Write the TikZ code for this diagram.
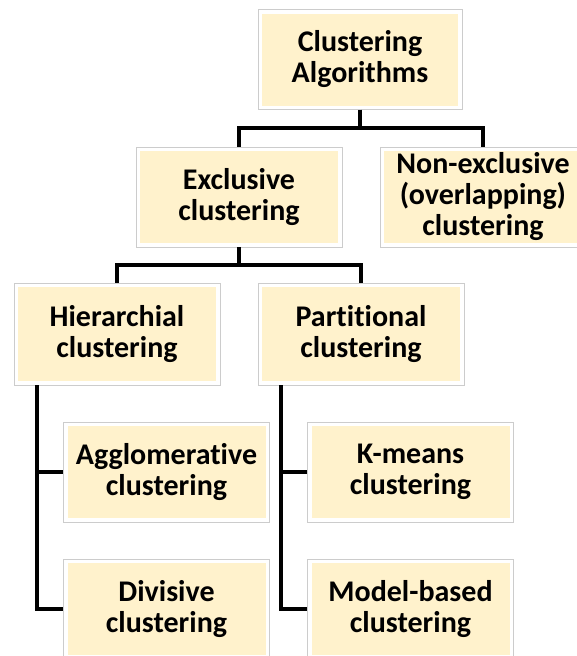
\documentclass[tikz,border=0pt]{standalone}
\usepackage{fontspec}
\setmainfont[Ligatures={NoCommon}]{Carlito}
\definecolor{cream}{HTML}{FFF2CC}
\definecolor{frame}{HTML}{CCCCCC}
\tikzset{
  box/.style={draw=frame, fill=white, minimum width=206, minimum height=100,
    align=center, font=\fontsize{30}{31}\selectfont\bfseries,
    path picture={\fill[cream] ([shift={(4pt,-4pt)}]path picture bounding box.north west)
      rectangle ([shift={(-4pt,4pt)}]path picture bounding box.south east);}},
  conn/.style={line width=4.5pt, black}
}
\begin{document}
\begin{tikzpicture}[x=1pt,y=-1pt]
            \useasboundingbox[fill=white] (0,0) rectangle (576,656);
            \node[box, minimum width=204] (top) at (360,59.5) {Clustering\\Algorithms};
            \node[box] (excl) at (239,197) {Exclusive\\clustering};
            \node[box] (nonex) at (483,197) {Non-exclusive\\(overlapping)\\clustering};
            \node[box, minimum height=102] (hier) at (117,334) {Hierarchial\\clustering};
            \node[box, minimum height=102] (part) at (361,334) {Partitional\\clustering};
            \node[box] (aggl) at (166.5,472) {Agglomerative\\clustering};
            \node[box] (div) at (166.5,609) {Divisive\\clustering};
            \node[box] (kmeans) at (410.5,472) {K-means\\clustering};
            \node[box] (model) at (410.5,609) {Model-based\\clustering};
            \coordinate (j1) at (360,128);
            \coordinate (j2) at (239,265);
            \coordinate (hs) at ([xshift=23pt]hier.south west);
            \coordinate (ps) at ([xshift=23pt]part.south west);
            \draw[conn] (top.south) -- (j1) -| (excl.north);
            \draw[conn] (j1) -| (nonex.north);
            \draw[conn] (excl.south) -- (j2) -| (hier.north);
            \draw[conn] (j2) -| (part.north);
            \draw[conn] (hs) |- (aggl.west);
            \draw[conn] (hs) |- (div.west);
            \draw[conn] (ps) |- (kmeans.west);
            \draw[conn] (ps) |- (model.west);
        \end{tikzpicture}
\end{document}
